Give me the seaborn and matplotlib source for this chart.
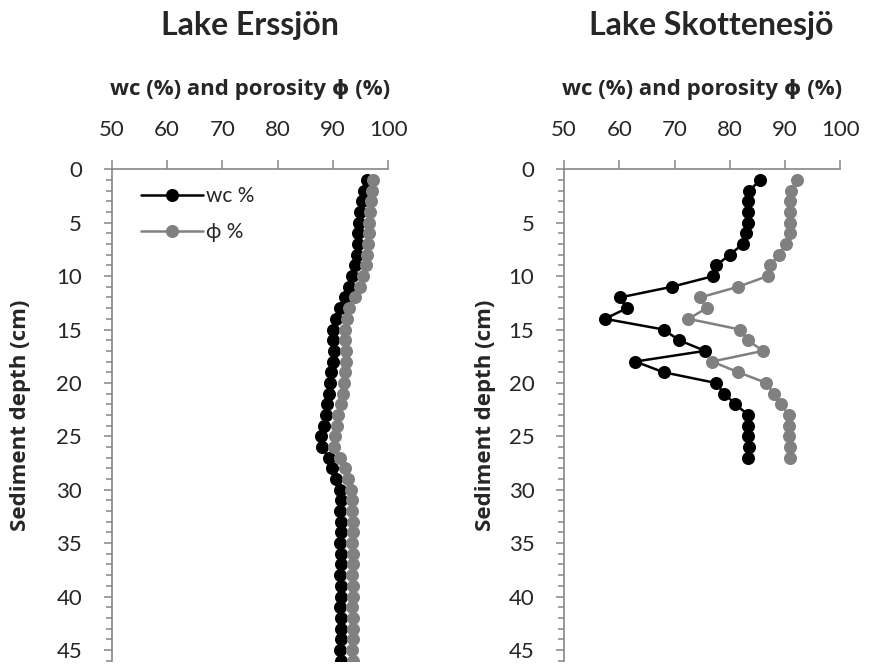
import numpy as np
import pandas as pd
import matplotlib
matplotlib.use("Agg")
import matplotlib.pyplot as plt
import seaborn as sns

# sediment depth (cm) of each sample
depth_erss = list(range(1, 47))
depth_skot = list(range(1, 28))

# Lake Erssjön
wc_erss = [96.2, 95.6, 95.2, 94.9, 94.7, 94.6, 94.5, 94.3, 94.0, 93.5,
           92.9, 92.1, 91.3, 90.6, 90.0, 90.0, 90.2, 90.0, 89.7, 89.5,
           89.3, 89.0, 88.8, 88.4, 87.8, 88.0, 89.3, 89.9, 90.6, 91.2,
           91.4, 91.3, 91.4, 91.5, 91.3, 91.4, 91.5, 91.3, 91.4, 91.5,
           91.3, 91.4, 91.5, 91.4, 91.3, 91.4]
phi_erss = [97.3, 97.0, 96.8, 96.7, 96.6, 96.5, 96.4, 96.2, 95.9, 95.5,
            94.9, 94.0, 93.0, 92.5, 92.2, 92.2, 92.4, 92.3, 92.1, 92.0,
            91.8, 91.5, 91.0, 90.7, 90.4, 90.2, 91.2, 92.2, 92.8, 93.2,
            93.5, 93.4, 93.6, 93.6, 93.5, 93.6, 93.7, 93.5, 93.6, 93.6,
            93.5, 93.6, 93.7, 93.6, 93.5, 93.6]

# Lake Skottenesjö
wc_skot = [85.5, 83.5, 83.2, 83.2, 83.2, 83.0, 82.3, 80.0, 77.5, 77.0,
           69.5, 60.1, 61.4, 57.4, 68.0, 70.8, 75.5, 62.9, 68.0, 77.4,
           79.0, 81.0, 83.3, 83.2, 83.2, 83.5, 83.2]
phi_skot = [92.2, 91.0, 90.8, 90.8, 90.8, 90.8, 90.2, 88.8, 87.3, 86.8,
            81.5, 74.6, 75.8, 72.5, 81.8, 83.2, 86.0, 76.8, 81.5, 86.6,
            87.9, 89.3, 90.6, 90.6, 90.6, 90.8, 90.8]

titles = ["Lake Erssjön", "Lake Skottenesjö"]
series_names = ["wc %", "ϕ %"]
x_ticks = [50, 60, 70, 80, 90, 100]
y_ticks = [0, 5, 10, 15, 20, 25, 30, 35, 40, 45]

sns.set_style("white")
plt.rcParams["font.family"] = ["Lato", "DejaVu Sans"]
label_font = ["Open Sans", "DejaVu Sans"]

W, H = 878, 668
fig = plt.figure(figsize=(W / 100, H / 100), dpi=100)

axis_grey = "#868686"
palette = {"wc %": "black", "ϕ %": "#808080"}


def make_frame(depth, wc, phi):
    return pd.DataFrame({
        "depth": depth + depth,
        "value": wc + phi,
        "series": [series_names[0]] * len(wc) + [series_names[1]] * len(phi),
    })


# (data, axes left edge px, legend?, ylabel pad, title centre px)
lakes = [
    (make_frame(depth_erss, wc_erss, phi_erss), 111.7, True, 18, 250),
    (make_frame(depth_skot, wc_skot, phi_skot), 564.0, False, 9, 711),
]

for i, (df, x0, show_legend, ypad, title_x) in enumerate(lakes):
    top, bottom = 169.3, 660.6
    ax = fig.add_axes([x0 / W, 1 - bottom / H, 276.5 / W, (bottom - top) / H])
    sns.lineplot(
        data=df, x="value", y="depth", hue="series", palette=palette,
        hue_order=series_names, estimator=None, sort=False,
        marker="o", markersize=9.4, markeredgewidth=0, linewidth=1.8,
        legend=show_legend, ax=ax,
    )
    ax.set_xlim(50, 100)
    ax.set_ylim(46, 0)
    ax.xaxis.tick_top()
    ax.xaxis.set_label_position("top")
    ax.set_xticks(x_ticks)
    ax.set_yticks(y_ticks)
    ax.set_yticks(range(0, 47), minor=True)

    for side in ["right", "bottom"]:
        ax.spines[side].set_visible(False)
    for side in ["top", "left"]:
        ax.spines[side].set_color(axis_grey)
        ax.spines[side].set_linewidth(1.2)

    ax.tick_params(axis="x", which="major", direction="out", length=6.3,
                   width=1.1, color=axis_grey, pad=14.5, labelsize=16)
    ax.tick_params(axis="y", which="major", direction="out", length=5.8,
                   width=1.1, color=axis_grey, pad=15.5, labelsize=16, left=True)
    ax.tick_params(axis="y", which="minor", direction="out", length=4.3,
                   width=1.1, color=axis_grey, left=True)

    ax.set_xlabel("wc (%) and porosity ϕ (%)", fontsize=16,
                  fontweight="bold", family=label_font, labelpad=18)
    ax.set_ylabel("Sediment depth (cm)", fontsize=16, fontweight="bold",
                  family=label_font, labelpad=ypad)

    if show_legend:
        handles, labels = ax.get_legend_handles_labels()
        ax.legend(handles, labels, loc="upper left",
                  bbox_to_anchor=(0.075, 0.982), frameon=False, fontsize=15,
                  handlelength=3.0, handletextpad=0.15, labelspacing=0.75,
                  borderaxespad=0)

    fig.text(title_x / W, 1 - 25 / H, titles[i], ha="center", va="center",
             fontsize=23, fontweight="bold")

fig.savefig("out.png", dpi=100)
